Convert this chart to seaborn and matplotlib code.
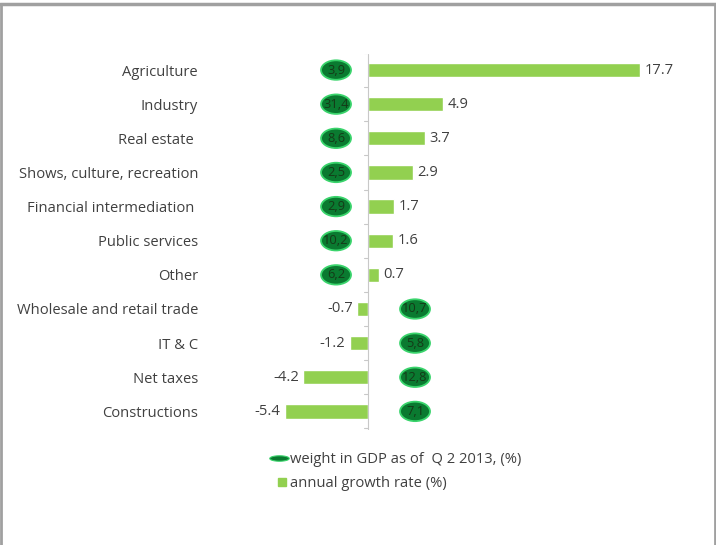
import matplotlib
matplotlib.use("Agg")
import matplotlib.pyplot as plt
from matplotlib.patches import Ellipse
from matplotlib.lines import Line2D
from matplotlib.path import Path
import numpy as np
import seaborn as sns
import pandas as pd

# Sectors, annual growth rate (%) and weight in GDP (%)
sectors = ["Agriculture", "Industry", "Real estate ", "Shows, culture, recreation",
           "Financial intermediation ", "Public services", "Other",
           "Wholesale and retail trade", "IT & C", "Net taxes", "Constructions"]
growth = [17.7, 4.9, 3.7, 2.9, 1.7, 1.6, 0.7, -0.7, -1.2, -4.2, -5.4]
weight = [3.9, 31.4, 8.6, 2.5, 2.9, 10.2, 6.2, 10.7, 5.8, 12.8, 7.1]

df = pd.DataFrame({"sector": sectors, "growth": growth, "weight": weight})

sns.set_theme(style="white")
plt.rcParams["font.family"] = ["Open Sans", "DejaVu Sans"]

BAR = "#92D050"
BUBBLE = "#0a7a30"
BUBBLE_EDGE = "#3ad46c"
DARK = "#404040"
FS = 10.6
W, H = 716, 545
fig = plt.figure(figsize=(W / 100, H / 100), dpi=100)

# plot area in pixels
left_px, right_px, top_px, bot_px = 230, 690, 54, 429.5
ax = fig.add_axes([left_px / W, 1 - bot_px / H, (right_px - left_px) / W, (bot_px - top_px) / H])

sns.barplot(data=df, x="growth", y="sector", orient="h", color=BAR,
            saturation=1, width=0.42, ax=ax)

zero_px, px_per_unit = 368, 15.37
ax.set_xlim((left_px - zero_px) / px_per_unit, (right_px - zero_px) / px_per_unit)
ax.set_ylim(len(sectors) - 0.5 + 0.03, -0.47)

for s in ax.spines.values():
    s.set_visible(False)
ax.set_xticks([])
ax.set_xlabel("")
ax.set_ylabel("")
ax.tick_params(axis="y", length=0, pad=23, labelsize=FS, labelcolor=DARK)

# category axis at zero with small ticks between categories
ax.axvline(0, color="#c8c8c8", lw=0.8, zorder=1)
for k in range(len(sectors) + 1):
    ax.plot([-0.25, 0], [k - 0.5, k - 0.5], color="#c8c8c8", lw=0.8, zorder=1)

# value labels and GDP weight bubbles
ell_w, ell_h = 1.95, 0.57
for i, (g, w) in enumerate(zip(growth, weight)):
    if g >= 0:
        ax.text(g + 0.3, i, f"{g:.1f}", va="center", ha="left", fontsize=FS, color=DARK)
        cx = -2.08
    else:
        ax.text(g - 0.3, i, f"{g:.1f}", va="center", ha="right", fontsize=FS, color=DARK)
        cx = 3.06
    ax.add_patch(Ellipse((cx, i), ell_w, ell_h, facecolor=BUBBLE,
                         edgecolor=BUBBLE_EDGE, lw=1.3, zorder=3))
    ax.text(cx, i, f"{w:.1f}".replace(".", ","), ha="center", va="center",
            fontsize=FS - 1.3, color="#153a18", zorder=4)

# flat ellipse marker for the legend
t = np.linspace(0, 2 * np.pi, 60)
flat = Path(np.column_stack([np.cos(t), 0.28 * np.sin(t)]), closed=True)

handles = [
    Line2D([], [], marker=flat, markersize=14, markerfacecolor=BUBBLE,
           markeredgecolor=BUBBLE_EDGE, markeredgewidth=0.8, linestyle="none"),
    Line2D([], [], marker="s", markersize=5.5, markerfacecolor=BAR,
           markeredgecolor=BAR, linestyle="none"),
]
leg = fig.legend(handles, ["weight in GDP as of  Q 2 2013, (%)", "annual growth rate (%)"],
                 loc="upper left", bbox_to_anchor=(256 / W, 1 - 439 / H),
                 frameon=False, fontsize=FS, handlelength=1.3, handletextpad=0.12,
                 labelspacing=0.6, labelcolor=DARK, markerscale=1)
# square marker sits right next to its label
leg.legend_handles[1].set_xdata([9.5])

# outer frame
fig.add_artist(Line2D([0.5 / W, 0.5 / W], [0, 1 - 4 / H], color="#a0a0a0", lw=2,
                      transform=fig.transFigure))
fig.add_artist(Line2D([714.5 / W, 714.5 / W], [0, 1 - 4 / H], color="#a0a0a0", lw=2,
                      transform=fig.transFigure))
fig.add_artist(Line2D([0, 1], [1 - 4 / H, 1 - 4 / H], color="#a0a0a0", lw=2.5,
                      transform=fig.transFigure))

fig.savefig("out.png", dpi=100, facecolor="white")
